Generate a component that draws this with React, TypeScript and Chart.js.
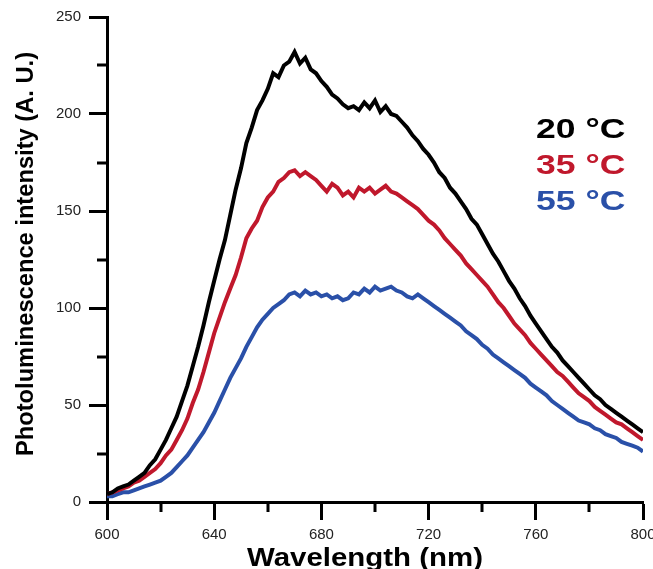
import React, { useEffect, useRef } from "react";
import { Chart, registerables } from "chart.js";

Chart.register(...registerables);

// Wavelength grid (nm): start and step of the sampled spectra
const WL_START = 600;
const WL_STEP = 2;

// Photoluminescence intensity (A. U.) at 20 °C, 600–800 nm every 2 nm
const pl20 = [
  4, 5, 7, 8, 9, 11, 13, 15, 19, 22,
  27, 32, 38, 44, 52, 60, 70, 80, 91, 103,
  114, 125, 135, 148, 161, 172, 185, 193, 202, 207,
  213, 221, 219, 225, 227, 232, 226, 229, 223, 221,
  217, 214, 210, 208, 205, 203, 204, 202, 206, 203,
  207, 201, 204, 200, 199, 196, 193, 189, 186, 182,
  179, 175, 170, 167, 162, 159, 155, 151, 146, 143,
  138, 133, 128, 124, 119, 114, 110, 105, 101, 96,
  92, 88, 84, 80, 77, 73, 70, 67, 64, 61,
  58, 55, 53, 50, 48, 46, 44, 42, 40, 38,
  36,
];

// 35 °C
const pl35 = [
  4, 5, 6, 7, 8, 10, 11, 13, 15, 17,
  20, 24, 27, 32, 37, 43, 51, 58, 67, 77,
  87, 95, 103, 110, 117, 126, 136, 141, 145, 152,
  157, 160, 165, 167, 170, 171, 168, 170, 168, 166,
  163, 160, 164, 162, 158, 160, 157, 162, 160, 162,
  159, 161, 163, 160, 159, 157, 155, 153, 151, 148,
  145, 143, 140, 136, 133, 130, 127, 123, 120, 117,
  114, 111, 107, 103, 100, 96, 92, 89, 86, 82,
  79, 76, 73, 70, 67, 65, 62, 59, 56, 54,
  52, 49, 47, 45, 43, 41, 40, 38, 36, 34,
  32,
];

// 55 °C
const pl55 = [
  3, 3, 4, 5, 5, 6, 7, 8, 9, 10,
  11, 13, 15, 18, 21, 24, 28, 32, 36, 41,
  46, 52, 58, 64, 69, 74, 80, 85, 90, 94,
  97, 100, 102, 104, 107, 108, 106, 109, 107, 108,
  106, 107, 105, 106, 104, 105, 108, 107, 110, 108,
  111, 109, 110, 111, 109, 108, 106, 105, 107, 105,
  103, 101, 99, 97, 95, 93, 91, 88, 86, 84,
  81, 79, 76, 74, 72, 70, 68, 66, 64, 61,
  59, 57, 55, 52, 50, 48, 46, 44, 42, 41,
  40, 38, 37, 35, 34, 33, 31, 30, 29, 28,
  26,
];

const seriesLabels = ["20 °C", "35 °C", "55 °C"];
const seriesColors = ["#000000", "#c0182c", "#2a50a8"];

const xMajorStep = 40;
const xMinorTicks = [620, 660, 700, 740, 780];
const yMajorStep = 50;
const yMinorTicks = [25, 75, 125, 175, 225];

const xTitle = "Wavelength (nm)";
const yTitle = "Photoluminescence intensity (A. U.)";

const SANS = "'Liberation Sans', Arial, Helvetica, sans-serif";

const toPoints = (vals: number[]) =>
  vals.map((v, i) => ({ x: WL_START + i * WL_STEP, y: v }));

const decor = {
  id: "decor",
  afterDraw(chart: any) {
    const { ctx, scales } = chart;
    const xs = scales.x;
    const ys = scales.y;
    ctx.save();
    // minor ticks
    ctx.strokeStyle = "#000";
    ctx.lineWidth = 3;
    ctx.beginPath();
    for (const v of xMinorTicks) {
      const px = Math.round(xs.getPixelForValue(v));
      ctx.moveTo(px, ys.bottom);
      ctx.lineTo(px, ys.bottom + 10);
    }
    for (const v of yMinorTicks) {
      const py = Math.round(ys.getPixelForValue(v));
      ctx.moveTo(xs.left - 10, py);
      ctx.lineTo(xs.left, py);
    }
    ctx.stroke();

    // x title
    ctx.fillStyle = "#000";
    ctx.textBaseline = "alphabetic";
    ctx.textAlign = "center";
    ctx.font = `bold 26.5px ${SANS}`;
    ctx.save();
    ctx.translate(365, 566);
    ctx.scale(1.11, 1);
    ctx.fillText(xTitle, 0, 0);
    ctx.restore();

    // y title
    ctx.save();
    ctx.translate(33, 254);
    ctx.rotate(-Math.PI / 2);
    ctx.font = `bold 23.7px ${SANS}`;
    ctx.textAlign = "center";
    ctx.fillText(yTitle, 0, 0);
    ctx.restore();

    // legend text
    const baselines = [138, 174, 210];
    chart.data.datasets.forEach((ds: any, i: number) => {
      ctx.save();
      ctx.translate(536, baselines[i]);
      ctx.scale(1.27, 1);
      ctx.font = `bold 28px ${SANS}`;
      ctx.textAlign = "left";
      ctx.fillStyle = ds.borderColor;
      ctx.fillText(ds.label, 0, 0);
      ctx.restore();
    });
    ctx.restore();
  },
};

export default function App() {
  const ref = useRef<HTMLCanvasElement | null>(null);
  useEffect(() => {
    if (!ref.current) return;
    const seriesVals = [pl20, pl35, pl55];
    const chart = new Chart(ref.current, {
      type: "line",
      data: {
        datasets: seriesVals.map((vals, i) => ({
          label: seriesLabels[i],
          data: toPoints(vals),
          borderColor: seriesColors[i],
          backgroundColor: seriesColors[i],
          borderWidth: 4,
          pointRadius: 0,
          tension: 0,
          fill: false,
        })),
      },
      options: {
        responsive: false,
        animation: false,
        devicePixelRatio: 1,
        layout: { padding: { top: 17, right: 10, left: 0, bottom: 0 } },
        plugins: { legend: { display: false }, tooltip: { enabled: false } },
        scales: {
          x: {
            type: "linear",
            min: 600,
            max: 800,
            ticks: {
              stepSize: xMajorStep,
              color: "#222",
              font: { family: SANS, size: 15 },
              padding: 6,
              maxRotation: 0,
              autoSkip: false,
            },
            grid: {
              drawOnChartArea: false,
              drawTicks: true,
              tickLength: 18,
              tickWidth: 3,
              tickColor: "#000",
              color: "#000",
            },
            border: { display: true, color: "#000", width: 3 },
            afterFit: (s: any) => {
              s.height = 67;
              s.paddingLeft = 0;
              s.paddingRight = 0;
            },
          },
          y: {
            type: "linear",
            min: 0,
            max: 250,
            ticks: {
              stepSize: yMajorStep,
              color: "#222",
              font: { family: SANS, size: 15 },
              padding: 8,
            },
            grid: {
              drawOnChartArea: false,
              drawTicks: true,
              tickLength: 18,
              tickWidth: 3,
              tickColor: "#000",
              color: "#000",
            },
            border: { display: true, color: "#000", width: 3 },
            afterFit: (s: any) => {
              s.width = 107;
              s.paddingTop = 0;
              s.paddingBottom = 0;
            },
          },
        },
      },
      plugins: [decor],
    });
    return () => chart.destroy();
  }, []);
  return (
    <div style={{ position: "absolute", left: 0, top: 0, width: 653, height: 569, background: "#fff" }}>
      <canvas ref={ref} width={653} height={569} style={{ display: "block" }} />
    </div>
  );
}
